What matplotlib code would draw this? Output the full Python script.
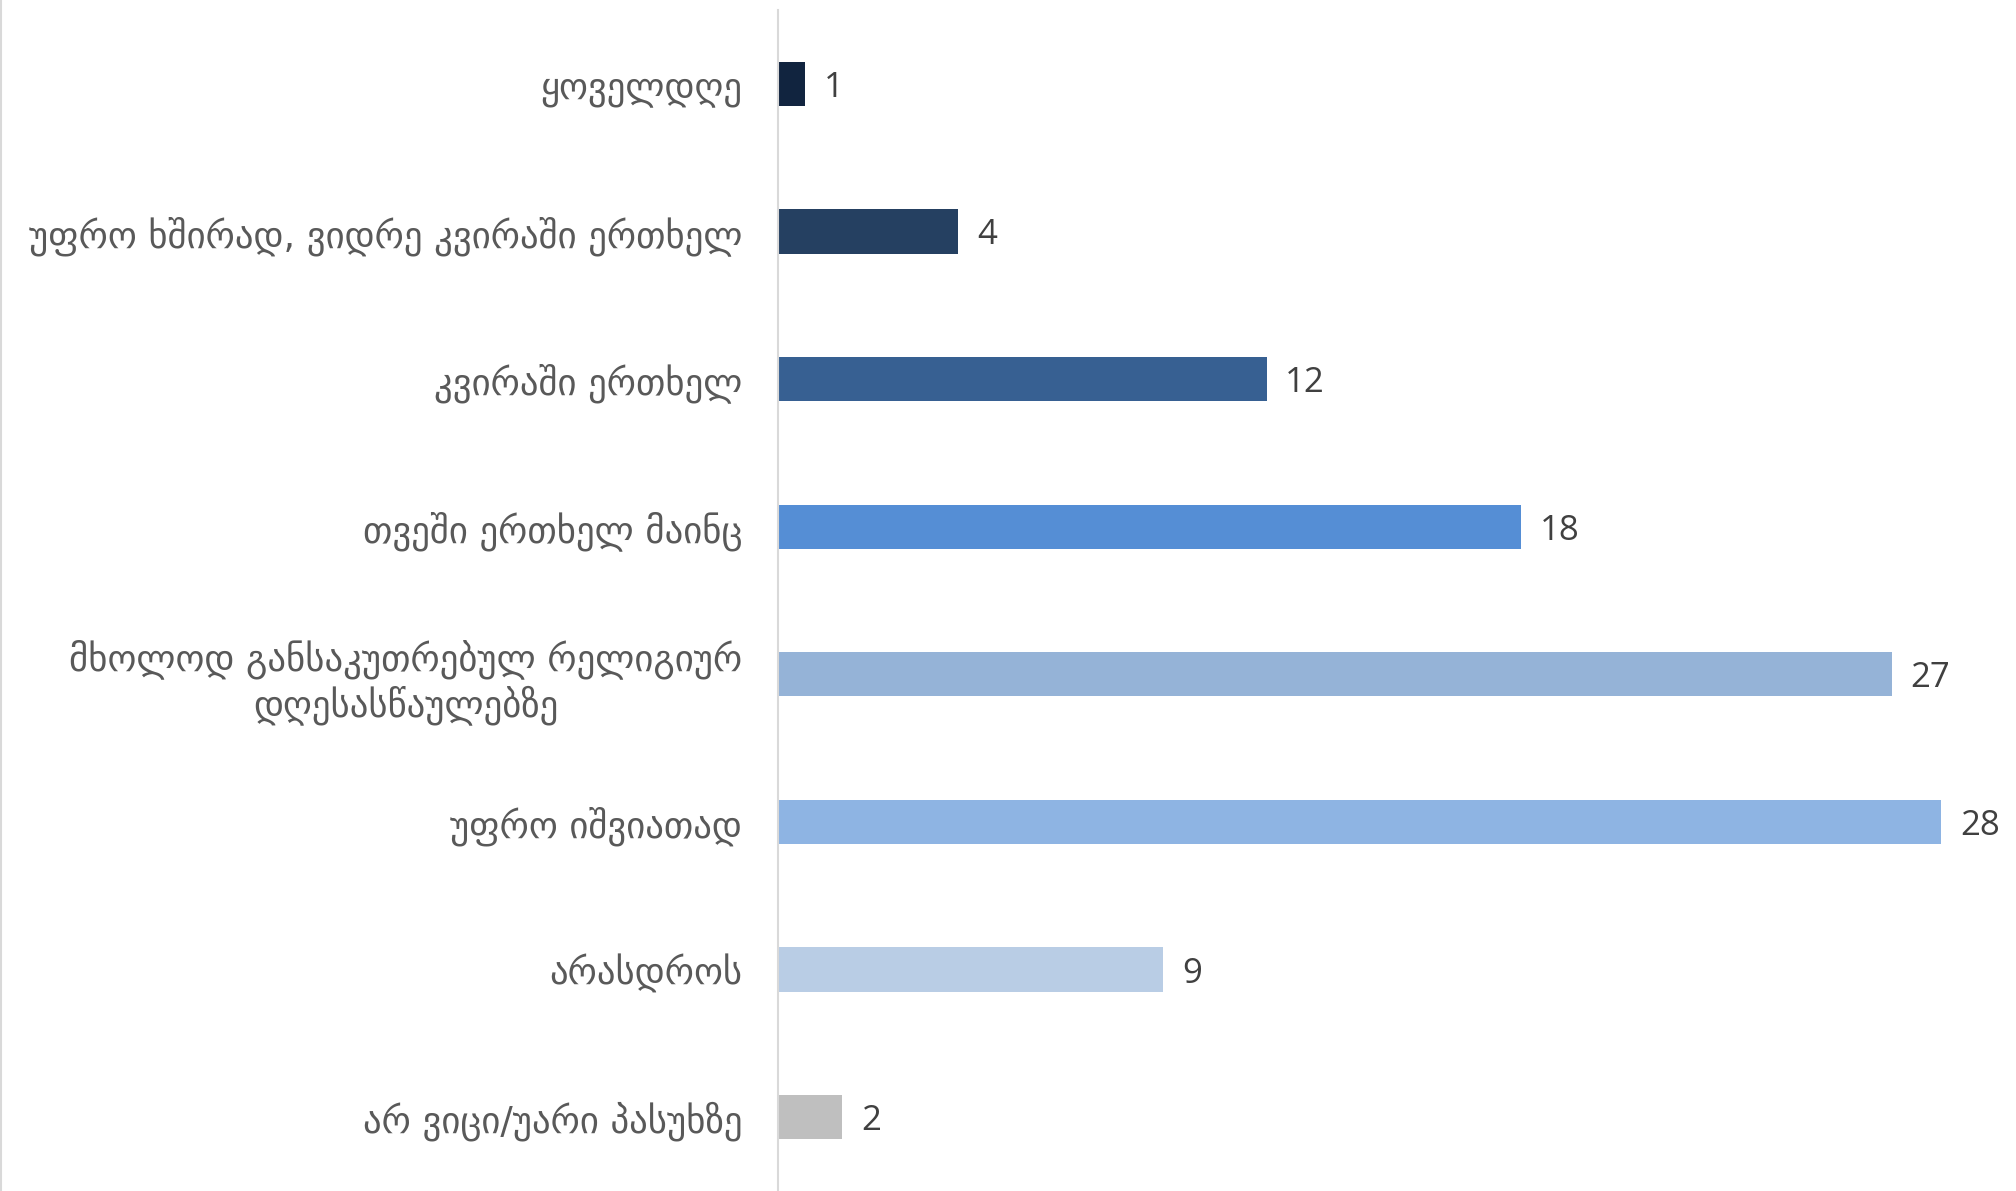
import numpy as np
import matplotlib.pyplot as plt
from matplotlib.lines import Line2D

categories = [
    'ყოველდღე',
    'უფრო ხშირად, ვიდრე კვირაში ერთხელ',
    'კვირაში ერთხელ',
    'თვეში ერთხელ მაინც',
    'მხოლოდ განსაკუთრებულ რელიგიურ\nდღესასწაულებზე',
    'უფრო იშვიათად',
    'არასდროს',
    'არ ვიცი/უარი პასუხზე',
]
# bar lengths (labels show rounded values)
values = [0.65, 4.35, 11.8, 17.95, 26.9, 28.1, 9.3, 1.55]
colors = ['#11243F', '#254061', '#376092', '#558ED5',
          '#95B3D7', '#8EB4E3', '#B9CDE5', '#BFBFBF']

fig = plt.figure(figsize=(20.16, 11.91), dpi=100)
ax = fig.add_axes([0.386, 0.0, 0.614, 0.9916])

y = np.arange(len(categories))
bars = ax.barh(y, values, height=0.30, color=colors)

ax.set_ylim(len(categories) - 0.5, -0.5)
ax.set_xlim(0, 29.9)
ax.set_yticks(y)
ax.set_yticklabels(categories, fontsize=26.5, color='#595959',
                   family='DejaVu Sans', multialignment='center')
ax.tick_params(axis='y', length=0, pad=26)
ax.set_xticks([])

for s in ['top', 'right', 'bottom']:
    ax.spines[s].set_visible(False)
ax.spines['left'].set_color('#D9D9D9')
ax.spines['left'].set_linewidth(1.5)

for b, v in zip(bars, values):
    ax.text(b.get_width() + 0.45, b.get_y() + b.get_height() / 2, f'{v:.0f}',
            va='center_baseline', ha='left', fontsize=25, color='#404040',
            family='Open Sans', clip_on=False)

# thin border at the left edge of the figure
fig.add_artist(Line2D([0.0006, 0.0006], [0, 1], color='#D9D9D9', lw=1.5,
                      transform=fig.transFigure))

fig.savefig('out.png', dpi=100)
